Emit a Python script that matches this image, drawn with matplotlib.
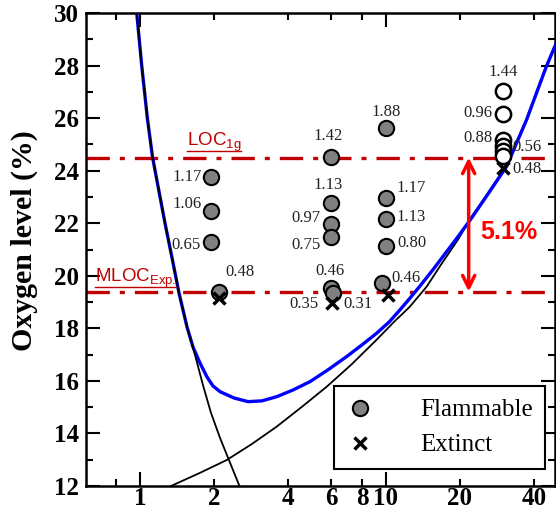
import matplotlib
matplotlib.use('Agg')
import matplotlib.pyplot as plt
from matplotlib.lines import Line2D
from matplotlib.ticker import FixedLocator, NullFormatter

plt.rcParams['font.family'] = 'serif'
plt.rcParams['font.serif'] = ['Liberation Serif', 'DejaVu Serif']
plt.rcParams['mathtext.default'] = 'regular'

# flammable (grey) points
flam_x = [1.94, 1.94, 1.94, 2.1, 6, 6, 6, 6, 6, 6.1, 10, 10, 10, 10, 9.6]
flam_y = [23.77, 22.47, 21.27, 19.4, 24.53, 22.78, 21.97, 21.46, 19.52, 19.36,
          25.64, 22.97, 22.16, 21.15, 19.72]
flam_lbl = ['1.17', '1.06', '0.65', '', '1.42', '1.13', '0.97', '0.75', '0.46', '0.35',
            '1.88', '1.17', '1.13', '0.80', '0.46']

# open circles at 30
open_x = [30, 30, 30, 30, 30, 30]
open_y = [27.04, 26.15, 25.15, 24.95, 24.75, 24.55]
open_lbl = ['1.44', '0.96', '0.88', '', '', '0.56']

# extinct points
ext_x = [2.1, 6.05, 10.2, 30]
ext_y = [19.14, 18.96, 19.27, 24.1]
ext_lbl = ['0.48', '0.31', '', '0.48']

# curves
left_x = [0.95, 0.9696, 1.016, 1.071, 1.124, 1.263, 1.355, 1.44, 1.553, 1.673, 1.803,
          1.944, 2.115, 2.299, 2.507, 2.595]
left_y = [31, 30, 28.0, 26.0, 24.52, 22.01, 20.6, 19.35, 18.05, 16.99, 15.84,
          14.78, 13.83, 12.99, 12.12, 11.77]
right_x = [1.206, 1.366, 1.753, 2.253, 2.852, 3.596, 4.549, 5.746, 7.27, 9.15, 10.77,
           12.5, 14.65, 16.6, 19.65, 22.0, 26.0, 30.9, 37.3, 44.9, 49.0]
right_y = [11.81, 12.04, 12.5, 12.99, 13.6, 14.26, 15.01, 15.78, 16.64, 17.56, 18.24,
           18.82, 19.59, 20.37, 21.38, 22.16, 23.15, 24.2, 25.97, 28.0, 28.82]
blue_x = [0.95, 0.9696, 1.016, 1.071, 1.124, 1.263, 1.355, 1.44, 1.553, 1.642, 1.753,
          1.872, 1.979, 2.115, 2.41, 2.75, 3.13, 3.6, 4.18, 4.91, 5.81, 6.91, 7.99,
          9.16, 10.3, 11.4, 12.5, 13.7, 15.5, 17.5, 19.6, 22.0, 26.0, 30.9, 37.3, 44.9, 49.0]
blue_y = [31, 30, 28.0, 26.0, 24.52, 22.01, 20.6, 19.35, 18.05, 17.29, 16.68,
          16.15, 15.81, 15.59, 15.35, 15.21, 15.24, 15.4, 15.65, 15.97, 16.42, 16.92, 17.37,
          17.81, 18.24, 18.7, 19.14, 19.59, 20.22, 20.87, 21.48, 22.12, 23.11, 24.15, 25.93,
          27.96, 28.8]

loc_1g = 24.5
mloc_exp = 19.4
arrow_x = 21.7

# label offsets in pixels (dx, dy, ha)
flam_off = [(-9, 0, 'right'), (-9, 7, 'right'), (-10, -3, 'right'), None,
            (-3, 21, 'center'), (-3, 18, 'center'), (-11, 6, 'right'), (-11, -8, 'right'),
            (-1, 17, 'center'), (-29, -11, 'center'),
            (0, 16, 'center'), (11, 10, 'left'), (11, 2, 'left'), (11, 3, 'left'), (10, 5, 'left')]
open_off = [(0, 19, 'center'), (-11, 1, 'right'), (-11, 2, 'right'), None, None, (9, 9, 'left')]
ext_off = [(21, 26, 'center'), (26, -1, 'center'), None, (9, -1, 'left')]

fig = plt.figure(figsize=(5.56, 5.12), dpi=100)
ax = fig.add_axes([86/556, 26/512, 469/556, 473/512])

red_dark = '#C00000'
for yy in [loc_1g, mloc_exp]:
    ln = ax.axhline(yy, color=red_dark, lw=2.4, zorder=2)
    ln.set_dashes((7, 3, 1.5, 3))

ax.plot(blue_x, blue_y, color='blue', lw=2.4, zorder=3)
ax.plot(left_x, left_y, color='black', lw=1.3, zorder=4)
ax.plot(right_x, right_y, color='black', lw=1.3, zorder=2.5)

ax.plot(flam_x, flam_y, 'o', ms=11, mfc='#808080', mec='black', mew=1.5, zorder=5)
ax.plot(open_x, open_y, 'o', ms=11, mfc='white', mec='black', mew=1.8, zorder=5)
ax.plot(ext_x, ext_y, 'x', ms=9, mec='black', mew=2.5, zorder=6)

def put_labels(xs, ys, labels, offs):
    for x, y, t, o in zip(xs, ys, labels, offs):
        if o is None or t == '':
            continue
        ax.annotate(t, (x, y), xytext=(o[0], o[1]), textcoords='offset pixels',
                    ha=o[2], va='center', fontsize=12, color='#222222', zorder=7)

put_labels(flam_x, flam_y, flam_lbl, flam_off)
put_labels(open_x, open_y, open_lbl, open_off)
put_labels(ext_x, ext_y, ext_lbl, ext_off)

ax.annotate('', xy=(arrow_x, loc_1g), xytext=(arrow_x, mloc_exp),
            arrowprops=dict(arrowstyle='<->', color='red', lw=2.5, mutation_scale=22,
                            shrinkA=0, shrinkB=0), zorder=6)
ax.text(31.6, 21.67, '5.1%', color='red', fontsize=18, fontweight='bold',
        family='Liberation Sans', ha='center', va='center')

t1 = ax.text(1.55, 24.95, 'LOC$_{1g}$', color=red_dark, fontsize=13.5,
             family='Liberation Sans', ha='left', va='baseline')
t2 = ax.text(0.656, 19.78, 'MLOC$_{Exp.}$', color=red_dark, fontsize=13.5,
             family='Liberation Sans', ha='left', va='baseline')

ax.set_xscale('log')
ax.set_xlim(0.603, 48.7)
ax.set_ylim(12, 30)
ax.xaxis.set_major_locator(FixedLocator([1, 10]))
ax.set_xticks([1, 10], labels=['1', '10'])
ax.set_xticks([0.8, 2, 4, 6, 8, 20, 40], labels=['', '2', '4', '6', '8', '20', '40'], minor=True)
ax.set_yticks(range(12, 31, 2))
ax.set_yticks(range(13, 30, 2), minor=True)
ax.yaxis.set_minor_formatter(NullFormatter())
ax.tick_params(which='both', direction='in', top=True, right=True, width=1.5,
               labelsize=18)
ax.tick_params(axis='x', which='both', pad=1)
ax.tick_params(axis='y', which='both', pad=5)
ax.tick_params(which='major', length=10)
ax.tick_params(which='minor', length=5)
for lbl in ax.get_xticklabels(which='both') + ax.get_yticklabels():
    lbl.set_fontweight('bold')
for sp in ax.spines.values():
    sp.set_linewidth(1.8)

ax.set_ylabel('Oxygen level (%)', fontsize=21.5, fontweight='bold')
ax.yaxis.set_label_coords(-0.103, 0.518)

handles = [Line2D([], [], ls='none', marker='o', ms=11, mfc='#808080', mec='black', mew=1.5),
           Line2D([], [], ls='none', marker='x', ms=9, mec='black', mew=2.5)]
leg = ax.legend(handles, ['Flammable', 'Extinct'], loc='lower right',
                bbox_to_anchor=(0.979, 0.036), fontsize=18, frameon=True,
                fancybox=False, framealpha=1, edgecolor='black',
                handlelength=1.08, handletextpad=1.85, borderpad=0.5,
                labelspacing=0.5, borderaxespad=0)
leg.get_frame().set_linewidth(1.5)
leg.set_zorder(8)

# underline the red labels
fig.canvas.draw()
inv = fig.transFigure.inverted()
for t in [t1, t2]:
    bb = t.get_window_extent()
    x0, y0 = inv.transform((bb.x0, bb.y0 + 3))
    x1, _ = inv.transform((bb.x1, bb.y0 + 3))
    fig.add_artist(Line2D([x0, x1], [y0, y0], color=red_dark, lw=1.0))

fig.savefig('out.png', dpi=100)
